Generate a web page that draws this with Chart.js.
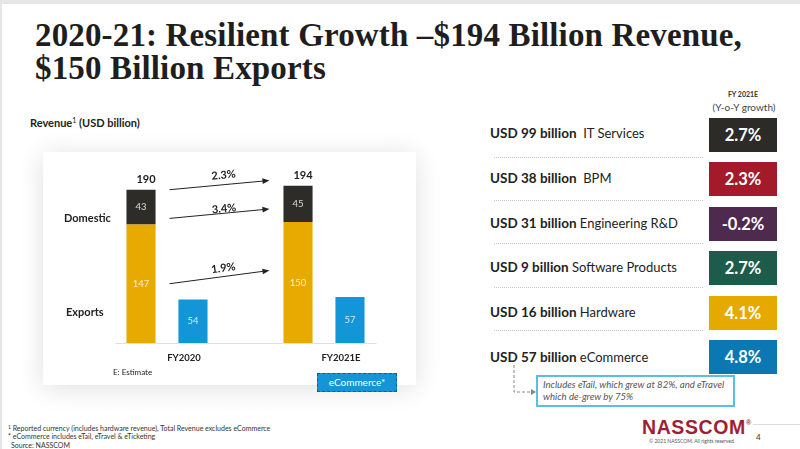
<!DOCTYPE html>
<html><head><meta charset="utf-8">
<script src="https://cdn.jsdelivr.net/npm/chart.js@4.4.1/dist/chart.umd.min.js"></script>
<style>
html,body{margin:0;padding:0;}
body{width:800px;height:449px;position:relative;overflow:hidden;background:#fff;font-family:Lato,"Open Sans",sans-serif;color:#222;}
.abs{position:absolute;white-space:nowrap;}
#frameTop{left:0;top:0;width:800px;height:4px;background:#e6e6e6;}
#frameLeft{left:0;top:0;width:2px;height:449px;background:#e6e6e6;}
#title{left:35px;top:19px;font-family:"Liberation Serif",serif;font-weight:bold;font-size:33px;line-height:33px;color:#1e1e1e;letter-spacing:0.15px;}
#card{left:43px;top:152px;width:373px;height:233px;background:#fff;box-shadow:0 3px 24px rgba(0,0,0,0.13);}
#chartBox{left:43px;top:152px;width:373px;height:233px;}
.lbl{font-weight:bold;font-size:11px;line-height:12px;}
.row{font-size:13px;line-height:16px;}
.row b{font-weight:bold;font-size:13.5px;}
.box{width:68px;height:34px;color:#fff;font-weight:bold;font-size:16.5px;line-height:34px;text-align:center;}
.sep{position:absolute;left:494px;width:209px;height:0px;border-top:1px dotted #c4c4c4;}
.foot{left:8px;font-size:7px;line-height:9px;color:#333;}
</style></head>
<body>
<div class="abs" id="frameTop"></div><div class="abs" id="frameLeft"></div>
<div class="abs" id="title">2020-21: Resilient Growth –$194 Billion Revenue,<br>$150 Billion Exports</div>
<div class="abs lbl" style="left:30px;top:114px;">Revenue<span style="font-size:7px;vertical-align:4px;font-weight:normal;">1</span> (USD billion)</div>
<div class="abs" id="card"></div>
<div class="abs" id="chartBox"><canvas id="c"></canvas></div>
<div class="abs lbl" style="left:64px;top:212px;">Domestic</div>
<div class="abs lbl" style="left:66px;top:306px;">Exports</div>
<div class="abs" style="left:113px;top:367px;font-size:8px;line-height:10px;">E: Estimate</div>
<div class="abs" style="left:317px;top:373px;width:78px;height:17px;background:#1595d8;border:1px dashed #0d5f98;color:#fff;font-size:10px;line-height:17px;text-align:center;">eCommerce*</div>

<div class="abs" style="left:712px;top:90px;width:62px;text-align:center;font-weight:bold;font-size:7px;line-height:9px;color:#333;">FY 2021E</div>
<div class="abs" style="left:704px;top:101px;width:80px;text-align:center;font-size:10px;line-height:12px;color:#444;">(Y-o-Y growth)</div>
<div id="panel"></div>
<div class="sep" style="top:157px;"></div>
<div class="sep" style="top:200px;"></div>
<div class="sep" style="top:243px;"></div>
<div class="sep" style="top:287px;"></div>
<div class="sep" style="top:330px;"></div>

<div class="abs" style="left:536px;top:375px;border:2px solid #5cbfdd;background:#fff;padding:2px 0 0 5px;font-style:italic;font-size:9.6px;line-height:12px;color:#555;height:26px;width:190px;">Includes eTail, which grew at 82%, and eTravel<br>which de-grew by 75%</div>
<svg class="abs" style="left:505px;top:360px;" width="40" height="40">
<path d="M9 5 V32 H26" fill="none" stroke="#888" stroke-width="1" stroke-dasharray="3,2"/>
<path d="M26 29 L31 32 L26 35 Z" fill="#888"/>
</svg>

<div class="abs foot" style="top:423px;"><span style="font-size:5px;vertical-align:2px;">1</span> Reported currency (includes hardware revenue), Total Revenue excludes eCommerce</div>
<div class="abs foot" style="top:432px;">* eCommerce includes eTail, eTravel &amp; eTicketing</div>
<div class="abs foot" style="top:441px;left:11px;">Source: NASSCOM</div>

<div class="abs" style="left:642px;top:412px;font-family:'Liberation Sans',Arial,sans-serif;font-weight:bold;font-size:19.5px;line-height:22px;color:#9e1f35;letter-spacing:0.6px;">NASSCOM<span style="font-size:7px;vertical-align:9px;">®</span></div>
<div class="abs" style="left:649px;top:438px;font-size:5px;line-height:6px;color:#555;">© 2021 NASSCOM. All rights reserved.</div>
<div class="abs" style="left:753px;top:424px;width:47px;height:1px;background:#ddd;"></div>
<div class="abs" style="left:756px;top:432px;font-size:8px;line-height:10px;color:#333;">4</div>

<script>
// ---- Data ----
const categories = ['FY2020', 'FY2021E'];
const exportsRev = [147, 150];
const domesticRev = [43, 45];
const ecommerceRev = [54, 57];
const totalRev = [190, 194];
const growthLabels = ['2.3%', '3.4%', '1.9%']; // total, domestic, exports

const segAmounts = ['USD 99 billion', 'USD 38 billion', 'USD 31 billion', 'USD 9 billion', 'USD 16 billion', 'USD 57 billion'];
const segNames = ['IT Services', 'BPM', 'Engineering R&D', 'Software Products', 'Hardware', 'eCommerce'];
const segGrowth = ['2.7%', '2.3%', '-0.2%', '2.7%', '4.1%', '4.8%'];

// ---- Right panel ----
const segColors = ['#2c2b27', '#a31b2b', '#4e2a4e', '#1d5b4a', '#e5a900', '#0b78b4'];
const panel = document.getElementById('panel');
segAmounts.forEach((amt, i) => {
  const r = document.createElement('div');
  r.className = 'abs row';
  r.style.left = '490px';
  r.style.top = (125 + i * 44.8) + 'px';
  r.innerHTML = '<b>' + amt + '</b>' + (i < 2 ? '&nbsp; ' : ' ') + segNames[i].replace('&', '&amp;');
  panel.appendChild(r);
  const b = document.createElement('div');
  b.className = 'abs box';
  b.style.left = '709px';
  b.style.top = (118 + i * 44.4) + 'px';
  b.style.background = segColors[i];
  b.textContent = segGrowth[i];
  panel.appendChild(b);
});

// ---- Annotations plugin ----
const annot = {
  id: 'annot',
  afterDatasetsDraw(chart) {
    const ctx = chart.ctx, ys = chart.scales.y;
    const mE = chart.getDatasetMeta(0), mD = chart.getDatasetMeta(1), mC = chart.getDatasetMeta(2);
    ctx.save();
    // baseline
    const first = mE.data[0], last = mC.data[1];
    const by = Math.round(ys.getPixelForValue(0)) + 0.5;
    ctx.strokeStyle = '#e0e0e0'; ctx.lineWidth = 1;
    ctx.beginPath(); ctx.moveTo(first.x - first.width / 2 - 11, by); ctx.lineTo(last.x + last.width / 2 + 12, by); ctx.stroke();
    // in-bar labels
    ctx.textAlign = 'center'; ctx.textBaseline = 'middle';
    ctx.font = '9.5px Lato';
    const sets = [[mE, exportsRev, 'rgba(255,248,225,0.9)'], [mD, domesticRev, 'rgba(235,235,235,0.9)'], [mC, ecommerceRev, 'rgba(230,245,255,0.9)']];
    sets.forEach(([m, vals, col]) => {
      m.data.forEach((bar, i) => {
        ctx.fillStyle = col;
        ctx.fillText(String(vals[i]), bar.x, (bar.y + bar.base) / 2);
      });
    });
    // totals
    ctx.font = 'bold 11px Lato'; ctx.fillStyle = '#222';
    mD.data.forEach((bar, i) => ctx.fillText(String(totalRev[i]), bar.x + 5, bar.y - 10));
    // growth arrows
    const a = mE.data[0], b = mE.data[1];
    const x0 = a.x + a.width / 2 + 14, x1 = b.x - b.width / 2 - 14;
    const arrows = [
      [totalRev[0], totalRev[1], 0, -6, 10],
      [exportsRev[0], exportsRev[1], -6, -13, 5],
      [exportsRev[0] / 2, exportsRev[1] / 2, 0, -12, 9]
    ];
    arrows.forEach(([v0, v1, d0, d1, lift], k) => {
      const y0 = ys.getPixelForValue(v0) + d0, y1 = ys.getPixelForValue(v1) + d1;
      const ang = Math.atan2(y1 - y0, x1 - x0);
      ctx.strokeStyle = '#222'; ctx.fillStyle = '#222'; ctx.lineWidth = 1;
      ctx.beginPath(); ctx.moveTo(x0, y0); ctx.lineTo(x1 - 6 * Math.cos(ang), y1 - 6 * Math.sin(ang)); ctx.stroke();
      ctx.beginPath();
      ctx.moveTo(x1, y1);
      ctx.lineTo(x1 - 7 * Math.cos(ang) + 2.8 * Math.sin(ang), y1 - 7 * Math.sin(ang) - 2.8 * Math.cos(ang));
      ctx.lineTo(x1 - 7 * Math.cos(ang) - 2.8 * Math.sin(ang), y1 - 7 * Math.sin(ang) + 2.8 * Math.cos(ang));
      ctx.closePath(); ctx.fill();
      const mx = (x0 + x1) / 2 + 5, my = (y0 + y1) / 2;
      ctx.save();
      ctx.translate(mx + lift * Math.sin(ang), my - lift * Math.cos(ang));
      ctx.rotate(ang);
      ctx.font = 'bold 11px Lato';
      ctx.fillText(growthLabels[k], 0, 0);
      ctx.restore();
    });
    ctx.restore();
  }
};

new Chart(document.getElementById('c'), {
  type: 'bar',
  data: {
    labels: categories,
    datasets: [
      { label: 'Exports', data: exportsRev, backgroundColor: '#e8aa00', stack: 'rev' },
      { label: 'Domestic', data: domesticRev, backgroundColor: '#2d2c28', stack: 'rev' },
      { label: 'eCommerce', data: ecommerceRev, backgroundColor: '#1396d8', stack: 'ecom' }
    ]
  },
  options: {
    responsive: true,
    maintainAspectRatio: false,
    animation: false,
    devicePixelRatio: 1,
    barPercentage: 0.56,
    categoryPercentage: 0.662,
    layout: { padding: { left: 45.5, right: 13.5, top: 13.5, bottom: 0 } },
    plugins: { legend: { display: false }, tooltip: { enabled: false } },
    scales: {
      x: {
        stacked: true,
        grid: { display: false, drawTicks: false },
        border: { display: false },
        ticks: { padding: 9, labelOffset: 17, color: '#222', font: { family: 'Lato', size: 9.5, weight: 'bold' } },
        afterFit: s => { s.height = 42; }
      },
      y: { stacked: true, display: false, min: 0, max: 220 }
    }
  },
  plugins: [annot]
});
</script>
</body></html>
